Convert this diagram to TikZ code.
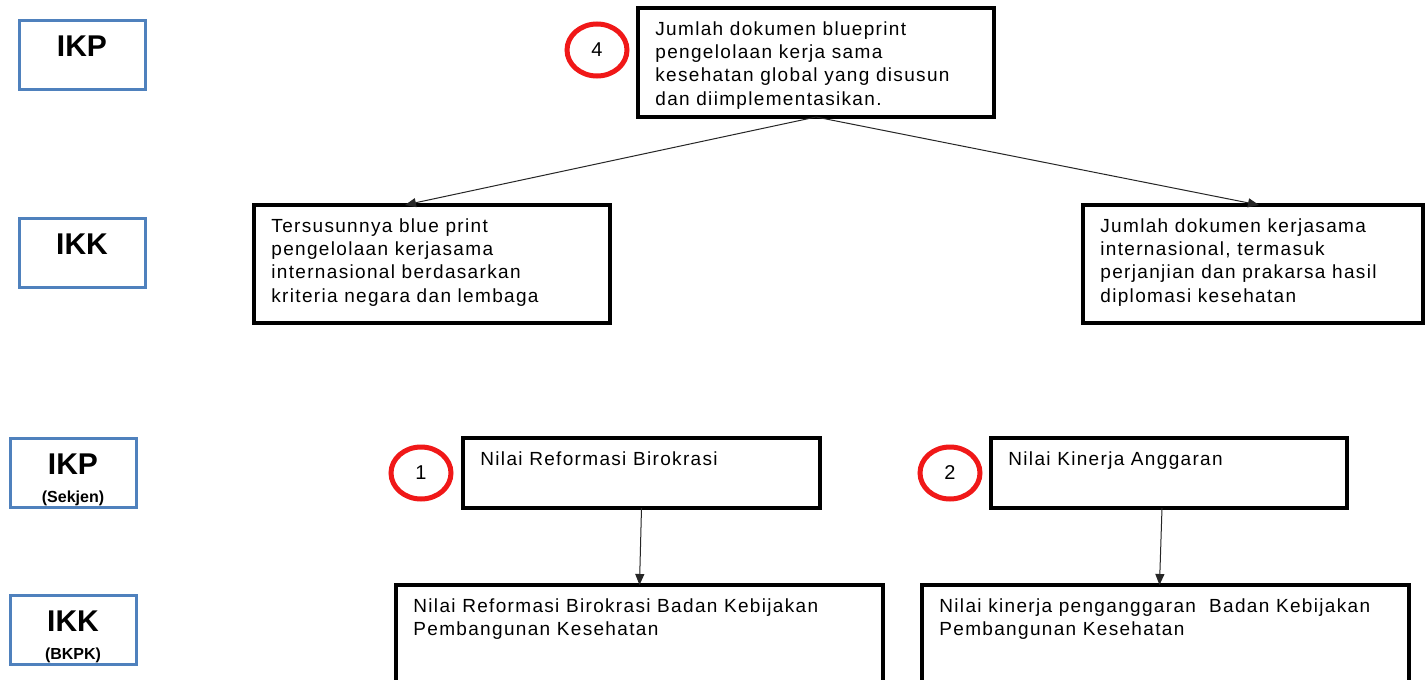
\documentclass[tikz,border=0pt]{standalone}
\usepackage{fontspec}
\setmainfont{Liberation Sans}
\usetikzlibrary{arrows.meta,shapes.geometric}
\definecolor{lvlblue}{RGB}{79,129,189}
\definecolor{mkred}{RGB}{240,24,24}
\newfontfamily\boxfont[LetterSpace=7]{Liberation Sans}
\tikzset{x=0.5pt, y=-0.5pt,
  level box/.style={draw=lvlblue, line width=1.5pt, anchor=north west,
        minimum width=63pt, minimum height=34.5pt, inner sep=0pt, outer sep=0pt},
  level text/.style={anchor=north, align=center, inner sep=0pt,
        font=\fontsize{15}{17}\bfseries},
  ind box/.style={draw=black, line width=1.6pt, anchor=north west,
        inner sep=0pt, outer sep=0pt},
  ind text/.style={anchor=north west, align=left, inner xsep=8.5pt,
        inner ysep=6.5pt, font=\boxfont\fontsize{9.5}{11.7}\selectfont},
  marker/.style={ellipse, draw=mkred, line width=2.5pt, minimum width=30pt,
        minimum height=26pt, inner sep=0pt, font=\fontsize{10}{12}\selectfont},
  link/.style={draw=black!85, line width=0.5pt,
        -{Triangle[length=5.5pt,width=4.5pt]}}
}
\def\Level#1#2#3#4{%
 \node[level box] (#1) at (#2,#3) {};
 \node[level text] (#1-t) at ([yshift=-7.5pt]#1.north) {#4};
}
\def\IndBox#1#2#3#4#5#6{%
 \node[ind box, minimum width={#4*0.5pt}, minimum height={#5*0.5pt}] (#1) at (#2,#3) {};
 \node[ind text] (#1-t) at (#1.north west) {#6};
}
\def\Sub#1{\\[-3pt]{\fontsize{8}{9}\selectfont #1}}

\begin{document}
\begin{tikzpicture}
\clip (0,0) rectangle (1425,680);
\fill[white] (0,0) rectangle (1425,680);
% levels
\Level{ikp}{19}{20}{IKP}
\Level{ikk}{19}{218}{IKK}
\Level{ikpsek}{10}{438}{IKP\Sub{(Sekjen)}}
\Level{ikkbkpk}{10}{595}{IKK\Sub{(BKPK)}}
% indicators
\IndBox{blueprint}{638}{8}{356}{109}{Jumlah dokumen blueprint\\ pengelolaan kerja sama\\
  kesehatan global yang disusun\\ dan diimplementasikan.}
\IndBox{tersusun}{254}{205}{356}{118}{Tersusunnya blue print\\ pengelolaan kerjasama\\
  internasional berdasarkan\\ kriteria negara dan lembaga}
\IndBox{dokumen}{1083}{205}{340}{118}{Jumlah dokumen kerjasama\\ internasional, termasuk\\
  perjanjian dan prakarsa hasil\\ diplomasi kesehatan}
\IndBox{reformasi}{463}{438}{357}{70}{Nilai Reformasi Birokrasi}
\IndBox{anggaran}{991}{438}{356}{70}{Nilai Kinerja Anggaran}
\IndBox{reformasibk}{396}{585}{487}{140}{Nilai Reformasi Birokrasi Badan Kebijakan\\
  Pembangunan Kesehatan}
\IndBox{anggaranbk}{922}{585}{487}{140}{Nilai kinerja penganggaran \ Badan Kebijakan\\
  Pembangunan Kesehatan}
% markers
\node[marker] (m4) at (597,50) {4};
\node[marker] (m1) at (421,473) {1};
\node[marker] (m2) at (950,473) {2};
% links
\draw[link] (blueprint.south) -- ([xshift=-13.5pt]tersusun.north);
\draw[link] (blueprint.south) -- ([xshift=3pt]dokumen.north);
\draw[link] (reformasi.south) -- (reformasibk.north);
\draw[link] ([xshift=-3.5pt]anggaran.south) -- ([xshift=-3pt]anggaranbk.north);
\end{tikzpicture}
\end{document}
